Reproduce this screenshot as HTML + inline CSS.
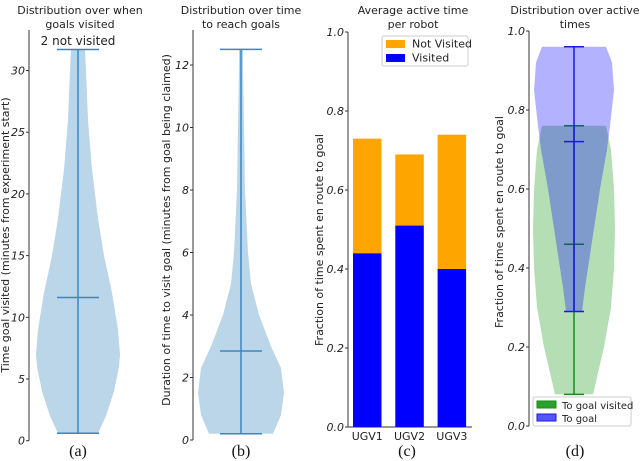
<!DOCTYPE html>
<html><head><meta charset="utf-8">
<style>
body{margin:0;background:#fff;}
svg{display:block;font-family:"DejaVu Sans","Liberation Sans",sans-serif;}
.t{font-size:11px;fill:#222;}
.lg{font-size:10px;fill:#222;}
.tick{font-size:11px;font-style:italic;fill:#222;}
.cap{font-family:"Liberation Serif",serif;font-size:16px;fill:#111;}
</style></head>
<body>
<svg id="s" width="640" height="461" viewBox="0 0 640 461"></svg>
<script>
// ---- data ----
// (a) time goal visited
const aTicks=[0,5,10,15,20,25,30];
const aStats=[0.6,11.6,31.7]; // min, median, max
const aVals=[0.6,2,4,6,7,9,12,15,18,22,26,30,31.7];
const aHalf=[20,28,36,41,42,40,34,26,20,14,10,8,7];
// (b) duration
const bTicks=[0,2,4,6,8,10,12];
const bStats=[0.2,2.85,12.5];
const bVals=[0.2,0.8,1.5,2.3,3,4,5,6,8,10,12,12.5];
const bHalf=[32,40,43,40,30,18,10,7,4,3,2,2];
// (c) bar chart
const cCats=['UGV1','UGV2','UGV3'];
const cVisited=[0.44,0.51,0.40];
const cNotVisited=[0.29,0.18,0.34];
const cTicks=[0,0.2,0.4,0.6,0.8,1.0];
// (d) violins
const dTicks=[0,0.2,0.4,0.6,0.8,1.0];
const gStats=[0.08,0.46,0.76];
const gVals=[0.08,0.2,0.3,0.4,0.5,0.6,0.7,0.76];
const gHalf=[19,30,37,40,41,40,37,32];
const blStats=[0.29,0.72,0.96];
const blVals=[0.29,0.35,0.4,0.5,0.6,0.7,0.76,0.85,0.92,0.96];
const blHalf=[8,11,14,20,26,33,36,40,38,32];

const NS='http://www.w3.org/2000/svg';
const s=document.getElementById('s');
function el(tag,attrs,parent,text){const e=document.createElementNS(NS,tag);for(const k in attrs)e.setAttribute(k,attrs[k]);if(text!==undefined)e.textContent=text;(parent||s).appendChild(e);return e;}

function axis(name,x,y0,y1,vmin,vmax,ticks,fmt,top){
  const sc=v=>y0-(v-vmin)/(vmax-vmin)*(y0-y1);
  const g=el('g',{});
  
  
  el('line',{x1:x,y1:top,x2:x,y2:y0,stroke:'#333','stroke-width':1},g);
  ticks.forEach(t=>{const y=sc(t);
    el('line',{x1:x-3,y1:y,x2:x,y2:y,stroke:'#333'},g);
    const tx=el('text',{x:x-4,y:y+4,'text-anchor':'end',class:'tick'},g,fmt(t));
    
    
  });
  return sc;
}
function violin(name,cx,sc,vals,half,stats,fill,op,line,cw){
  const g=el('g',{});
  
  
  let d='';
  vals.forEach((v,i)=>{d+=(i?'L':'M')+(cx+half[i])+','+sc(v);});
  for(let i=vals.length-1;i>=0;i--)d+='L'+(cx-half[i])+','+sc(vals[i]);
  el('path',{d:d+'Z',fill:fill,'fill-opacity':op},g);
  el('line',{x1:cx,y1:sc(stats[0]),x2:cx,y2:sc(stats[2]),stroke:line,'stroke-width':1.5},g);
  stats.forEach(v=>el('line',{x1:cx-cw,y1:sc(v),x2:cx+cw,y2:sc(v),stroke:line,'stroke-width':1.5},g));
}
function title(x,lines,name){
  const t=el('text',{x:x,y:14,'text-anchor':'middle',class:'t'});
  
  
  lines.forEach((l,i)=>el('tspan',{x:x,dy:i?14:0},t,l));
}
function ylabel(x,y,txt,name){
  const t=el('text',{x:0,y:0,transform:`translate(${x},${y}) rotate(-90)`,'text-anchor':'middle',class:'t'},s,txt);
  
  
}
function caption(x,txt,name){
  const t=el('text',{x:x,y:456,'text-anchor':'middle',class:'cap'},s,txt);
  
  
}

// Panel a
title(80,['Distribution over when','goals visited'],'title-a');
const sa=axis('y-axis-a',29,440.7,70.5,0,30,aTicks,v=>v,30);
violin('violin-a',78,sa,aVals,aHalf,aStats,'#1f77b4',0.3,'#3a86c4',21);
const na=el('text',{x:78,y:45,'text-anchor':'middle',class:'t',style:'font-size:12px'},s,'2 not visited');


ylabel(9,235,'Time goal visited (minutes from experiment start)','y-axis-title-a');
caption(78,'(a)','caption-a');

// Panel b
title(241,['Distribution over time','to reach goals'],'title-b');
const sb=axis('y-axis-b',193,440,65,0,12,bTicks,v=>v,30);
violin('violin-b',241,sb,bVals,bHalf,bStats,'#1f77b4',0.3,'#3a86c4',21);
ylabel(170,230,'Duration of time to visit goal (minutes from goal being claimed)','y-axis-title-b');
caption(241,'(b)','caption-b');

// Panel c
title(413,['Average active time','per robot'],'title-c');
const sc=axis('y-axis-c',348,427,32,0,1,cTicks,v=>v.toFixed(1),32);
const xa=el('line',{x1:348,y1:427,x2:472,y2:427,stroke:'#333'});


const bx=i=>353+i*42.3, bw=28.5;
cCats.forEach((c,i)=>{
  const v=el('rect',{x:bx(i),y:sc(cVisited[i]),width:bw,height:sc(0)-sc(cVisited[i]),fill:'#0000ff'});
  
  
  const top=cVisited[i]+cNotVisited[i];
  const n=el('rect',{x:bx(i),y:sc(top),width:bw,height:sc(cVisited[i])-sc(top),fill:'#ffa500'});
  
  
  const l=el('text',{x:bx(i)+bw/2,y:440,'text-anchor':'middle',class:'t'},s,c);
  
  
});
const lc=el('g',{});


el('rect',{x:382,y:36,width:86,height:30,fill:'#fff',stroke:'#ccc',rx:2},lc);
el('rect',{x:386,y:40,width:19,height:8,fill:'#ffa500'},lc);
el('text',{x:412,y:47.5,class:'t'},lc,'Not Visited');
el('rect',{x:386,y:54,width:19,height:8,fill:'#0000ff'},lc);
el('text',{x:412,y:61.5,class:'t'},lc,'Visited');
ylabel(323,240,'Fraction of time spent en route to goal','y-axis-title-c');
caption(407,'(c)','caption-c');

// Panel d
title(575,['Distribution over active','times'],'title-d');
const sd=axis('y-axis-d',529,426,31,0,1,dTicks,v=>v.toFixed(1),31);
violin('violin-to-goal-visited',574,sd,gVals,gHalf,gStats,'#2ca02c',0.35,'#1a8a1a',10);
violin('violin-to-goal',574,sd,blVals,blHalf,blStats,'#0000ff',0.3,'#1a1ae0',10);
ylabel(503,222,'Fraction of time spent en route to goal','y-axis-title-d');
const ld=el('g',{});


el('rect',{x:533,y:397,width:98,height:29,fill:'#fff',stroke:'#ccc',rx:2},ld);
el('rect',{x:537,y:401,width:19,height:7,fill:'#2ca02c',stroke:'#1a8a1a'},ld);
el('text',{x:562,y:409,class:'lg'},ld,'To goal visited');
el('rect',{x:537,y:414,width:19,height:7,fill:'#5555ff',stroke:'#1a1ae0'},ld);
el('text',{x:562,y:422,class:'lg'},ld,'To goal');
caption(575,'(d)','caption-d');
</script>
</body></html>
